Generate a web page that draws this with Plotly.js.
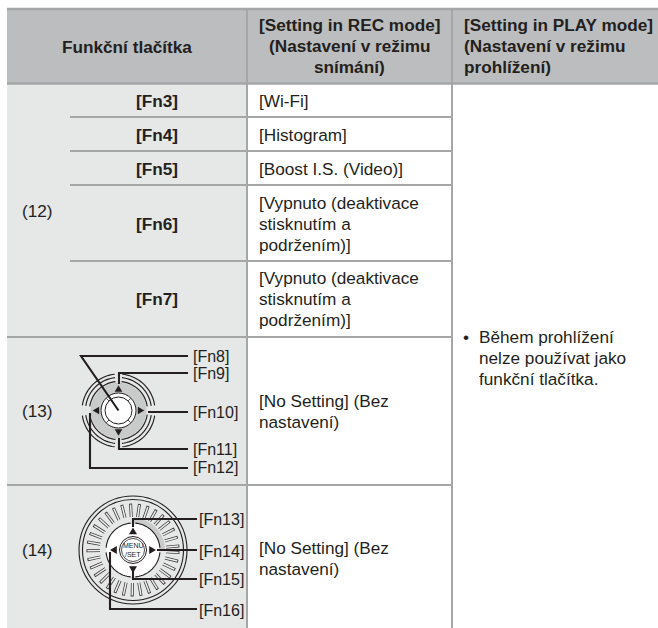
<!DOCTYPE html>
<html><head><meta charset="utf-8">
<script src="https://cdn.plot.ly/plotly-3.0.1.min.js"></script>
<style>html,body{margin:0;padding:0;background:#fff}#c{width:658px;height:628px}</style>
</head><body><div id="c"></div>
<script>
// ---- content
const headerKeys = ["Funkční tlačítka"];
const headerRec = ["[Setting in REC mode]", "(Nastavení v režimu", "snímání)"];
const headerPlay = ["[Setting in PLAY mode]", "(Nastavení v režimu", "prohlížení)"];
const fnKeys = ["[Fn3]", "[Fn4]", "[Fn5]", "[Fn6]", "[Fn7]"];
const groupLabels = ["(12)", "(13)", "(14)"];
const recLines = ["[Wi-Fi]", "[Histogram]", "[Boost I.S. (Video)]",
  "[Vypnuto (deaktivace", "stisknutím a", "podržením)]",
  "[Vypnuto (deaktivace", "stisknutím a", "podržením)]",
  "[No Setting] (Bez", "nastavení)", "[No Setting] (Bez", "nastavení)"];
const playLines = ["Během prohlížení", "nelze používat jako", "funkční tlačítka."];
const dial13Labels = ["[Fn8]", "[Fn9]", "[Fn10]", "[Fn11]", "[Fn12]"];
const dial14Labels = ["[Fn13]", "[Fn14]", "[Fn15]", "[Fn16]"];

// ---- layout geometry (page pixels on the hidden axes)
const recY = [101,135,169,203,224,245,278,299,320,401,422,548,569];
const keyY = [101,135,169,224,299];
const headY = [25,46,67];
const playY = [337,358,379];
const groupY = [211,411,550];
const d13LabelY = [356,373,412,449,467];
const d14LabelY = [519,551,579,610];
const INK = "#231f20", LINE = "#a5a6a6", HEAD = "#bcbdbe", SIDE = "#e6e7e7";
const SZ = 17.2, SZL = 16;

const ann = [], shp = [];
function T(text,x,y,anchor,bold,size,fam){
  ann.push({text:bold?"<b>"+text+"</b>":text,x,y,xref:"x",yref:"y",xanchor:anchor,yanchor:"middle",
    showarrow:false,borderpad:0,font:{family:fam||"Liberation Sans, Arial, sans-serif",size:size||SZ,color:INK}});
}
function rect(x0,y0,x1,y1,fill){shp.push({type:"rect",x0,y0,x1,y1,fillcolor:fill,line:{width:0},layer:"below"});}
function ln(x0,y0,x1,y1,c,w){shp.push({type:"line",x0,y0,x1,y1,line:{color:c,width:w}});}
function path(d,c,w,fill){shp.push({type:"path",path:d,line:{color:c,width:w},fillcolor:fill||"rgba(0,0,0,0)"});}
function circ(cx,cy,r,fill,c,w){shp.push({type:"circle",x0:cx-r,y0:cy-r,x1:cx+r,y1:cy+r,fillcolor:fill,line:{color:c||fill,width:w===undefined?0:w}});}
function tri(cx,cy,dir,s){
  const p={u:[[0,-s],[s,s*.7],[-s,s*.7]],d:[[0,s],[s,-s*.7],[-s,-s*.7]],l:[[-s,0],[s*.7,-s],[s*.7,s]],r:[[s,0],[-s*.7,-s],[-s*.7,s]]}[dir];
  path("M"+p.map(q=>(cx+q[0])+","+(cy+q[1])).join(" L")+" Z",INK,0,INK);
}
function arc(cx,cy,r,a0,a1,c,w){
  let d="";for(let a=a0;a<=a1;a+=4){const t=a*Math.PI/180;d+=(d?" L":"M")+(cx+r*Math.cos(t)).toFixed(2)+","+(cy+r*Math.sin(t)).toFixed(2);}
  path(d,c,w);
}

// table fills and rules
rect(7,8,658,84,HEAD);
rect(7,84,247,628,SIDE);
[9,83.5].forEach(y=>ln(7,y,658,y,LINE,2.4));
[117,151,185,261].forEach(y=>ln(70,y,452,y,LINE,2));
[337,485].forEach(y=>ln(7,y,452,y,LINE,2));
ln(247,8,247,628,LINE,2);
ln(452,8,452,628,LINE,2);

// text
T(headerKeys[0],127,47,"center",true);
headerRec.forEach((s,i)=>T(s,349,headY[i],"center",true));
headerPlay.forEach((s,i)=>T(s,463,headY[i],"left",true));
fnKeys.forEach((s,i)=>T(s,157,keyY[i],"center",true));
groupLabels.forEach((s,i)=>T(s,37.5,groupY[i],"center",false));
recLines.forEach((s,i)=>T(s,258,recY[i],"left",false));
T("•",466,337,"center",false);
playLines.forEach((s,i)=>T(s,478,playY[i],"left",false));
dial13Labels.forEach((s,i)=>T(s,191.5,d13LabelY[i],"left",false,SZL));
dial14Labels.forEach((s,i)=>T(s,198,d14LabelY[i],"left",false,SZL));

// dial (13)
(function(){
  const cx=118.5,cy=410.5;
  circ(cx,cy,28,"#c9caca");
  [29,33,36.5].forEach(r=>{
    [[-84,-8],[8,84],[96,172],[188,264]].forEach(([a,b])=>arc(cx,cy,r,a,b,INK,1.15));
  });
  circ(cx,cy,17.5,"#ffffff",INK,1);
  circ(cx,cy,13.5,"#ffffff",INK,1);
  [45,135,225,315].forEach(a=>{
    const t=a*Math.PI/180;
    ln(cx+13.5*Math.cos(t),cy+13.5*Math.sin(t),cx+17.5*Math.cos(t),cy+17.5*Math.sin(t),"#555",1);
  });
  tri(cx,cy-21.5,"u",3.8);tri(cx,cy+21.5,"d",3.8);tri(cx-22,cy,"l",3.8);tri(cx+22,cy,"r",3.8);
  const W=2.1;
  path("M188,356 L81,356 L118.5,410.5",INK,W);
  path("M188,373 L119,373 L119,384",INK,W);
  ln(148,412,188,412,INK,W);
  path("M188,449 L119,449 L119,438",INK,W);
  path("M188,468 L90,468 L90,413",INK,W);
})();

// dial (14)
(function(){
  const cx=133,cy=550;
  circ(cx,cy,54,"#e6e7e7",INK,1.1);
  circ(cx,cy,50.5,"#e6e7e7",INK,1.1);
  for(let a=3;a<360;a+=11){
    const t=a*Math.PI/180,c=Math.cos(t),s=Math.sin(t);
    ln(cx+33*c,cy+33*s,cx+46.5*c,cy+46.5*s,"#3a3637",3);
  }
  for(let a=3;a<360;a+=11){
    const t=a*Math.PI/180,c=Math.cos(t),s=Math.sin(t);
    ln(cx+32*c,cy+32*s,cx+45.6*c,cy+45.6*s,"#f0f0f0",1.5);
  }
  circ(cx,cy,33,"#e6e7e7");
  let sector="M"+cx+","+(cy-32);
  for(let a=-90;a<=0;a+=6){const t=a*Math.PI/180;sector+=" L"+(cx+32*Math.cos(t)).toFixed(2)+","+(cy+32*Math.sin(t)).toFixed(2);}
  sector+=" L"+cx+","+cy+" Z";
  path(sector,"#c9caca",0,"#c9caca");
  circ(cx,cy,26.5,"#ffffff",INK,0);
  [[-175,-95],[-85,-5],[5,85],[95,175]].forEach(([a,b])=>arc(cx,cy,27,a,b,INK,1.1));
  circ(cx,cy,13.5,"#ffffff",INK,1);
  circ(cx,cy,11.5,"#ffffff",INK,0.8);
  const narrow="Liberation Sans Narrow, Liberation Sans, sans-serif";
  T("MENU",cx,cy-4.5,"center",false,7,narrow);
  T("/SET",cx,cy+4.5,"center",false,7,narrow);
  tri(cx,cy-18.5,"u",4);tri(cx,cy+19,"d",4);tri(cx-19,cy,"l",4);tri(cx+19,cy,"r",4);
  const W=2.1;
  path("M197,519 L133,519 L133,527",INK,W);
  ln(157,550,197,550,INK,W);
  path("M197,579 L133,579 L133,571",INK,W);
  path("M197,609 L110,609 L110,552",INK,W);
})();

Plotly.newPlot("c",[],{
  width:658,height:628,margin:{l:0,r:0,t:0,b:0},
  paper_bgcolor:"#fff",plot_bgcolor:"#fff",showlegend:false,
  xaxis:{range:[0,658],visible:false,fixedrange:true},
  yaxis:{range:[628,0],visible:false,fixedrange:true},
  shapes:shp,annotations:ann
},{staticPlot:true,displayModeBar:false});
</script></body></html>
